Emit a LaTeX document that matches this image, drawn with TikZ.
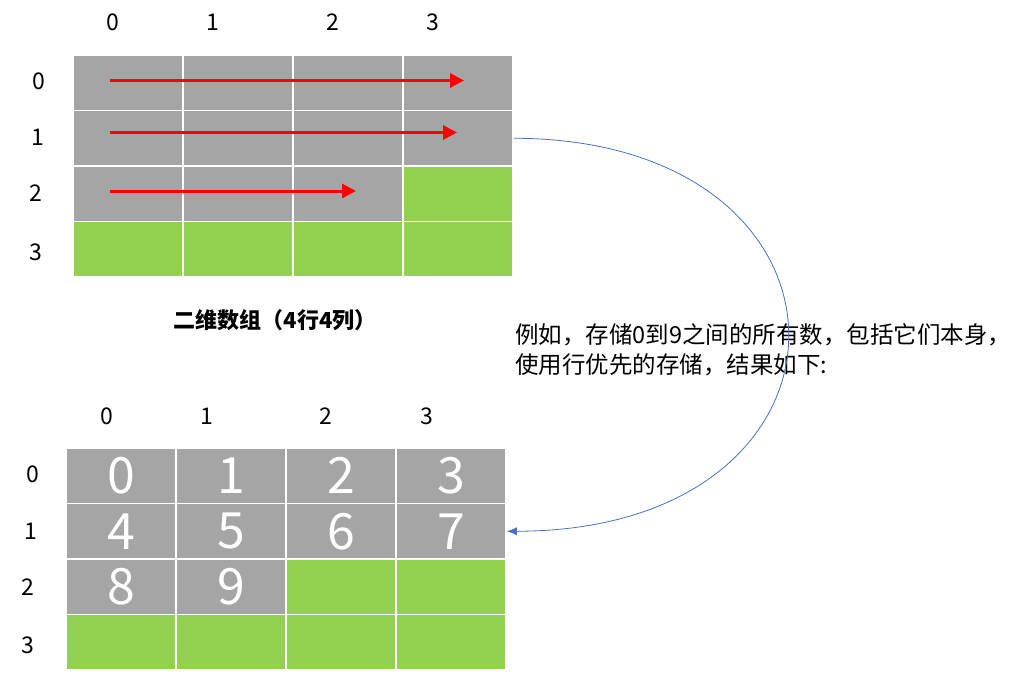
\documentclass[tikz,border=0pt]{standalone}
\usepackage{fontspec}
\setmainfont{Noto Sans CJK SC}
\usetikzlibrary{arrows.meta}
\definecolor{cellgray}{HTML}{A5A5A5}
\definecolor{cellgreen}{HTML}{92D050}
\definecolor{arrred}{HTML}{FF0000}
\definecolor{linkblue}{HTML}{4472C4}
\tikzset{
  cell/.style={draw=white, line width=1.5pt, minimum width=110pt, minimum height=55.5pt, inner sep=0pt, anchor=center, text=white, font=\fontsize{50}{56}\selectfont},
  g/.style={cell, fill=cellgray},
  v/.style={cell, fill=cellgreen},
  idx/.style={font=\fontsize{23}{27}\selectfont, text=black, inner sep=0pt},
  redarrow/.style={draw=arrred, line width=3pt, -{Triangle[length=14pt,width=14pt]}},
  link/.style={draw=linkblue, line width=0.8pt, -{Latex[length=10pt,width=8pt]}},
  body/.style={font=\fontsize{23.5}{30}\selectfont, align=left, anchor=north west, inner sep=0pt}
}
\begin{document}
\begin{tikzpicture}[x=1pt,y=-1pt]
\useasboundingbox (0,0) rectangle (1036,675);
% top grid
\foreach \r/\c/\s in {0/0/g,0/1/g,0/2/g,0/3/g,1/0/g,1/1/g,1/2/g,1/3/g,2/0/g,2/1/g,2/2/g,2/3/v,3/0/v,3/1/v,3/2/v,3/3/v}
  \node[\s] (t-\r-\c) at ({73+110*\c+55},{55+55.5*\r+27.75}) {};
% top labels
\node[idx] (tc0) at (113,22) {0};
\node[idx] (tc1) at (213,22) {1};
\node[idx] (tc2) at (333,22) {2};
\node[idx] (tc3) at (433,22) {3};
\node[idx] (tr0) at (39,81) {0};
\node[idx] (tr1) at (38,137) {1};
\node[idx] (tr2) at (36,193) {2};
\node[idx] (tr3) at (36,252) {3};
% red arrows
\coordinate (a0s) at (110,80.5);
\coordinate (a0e) at (464,80.5);
\coordinate (a1s) at (110,132.5);
\coordinate (a1e) at (457,132.5);
\coordinate (a2s) at (110,191);
\coordinate (a2e) at (356,191);
\draw[redarrow] (a0s) -- (a0e);
\draw[redarrow] (a1s) -- (a1e);
\draw[redarrow] (a2s) -- (a2e);
% caption
\node[font=\fontsize{22}{26}\selectfont\bfseries, inner sep=0pt] (cap) at (275,320) {二维数组（4行4列）};
% description
\node[body] (desc) at (515,323) {例如，存储0到9之间的所有数，包括它们本身，\\使用行优先的存储，结果如下:};
% bottom grid
\foreach \r/\c/\s/\t in {0/0/g/0,0/1/g/1,0/2/g/2,0/3/g/3,1/0/g/4,1/1/g/5,1/2/g/6,1/3/g/7,2/0/g/8,2/1/g/9,2/2/v/,2/3/v/,3/0/v/,3/1/v/,3/2/v/,3/3/v/}
  \node[\s] (b-\r-\c) at ({66+110*\c+55},{448+55.5*\r+27.75}) {\t};
\node[idx] (bc0) at (107,416) {0};
\node[idx] (bc1) at (207,416) {1};
\node[idx] (bc2) at (326,416) {2};
\node[idx] (bc3) at (427,416) {3};
\node[idx] (br0) at (33,474) {0};
\node[idx] (br1) at (31,531) {1};
\node[idx] (br2) at (28,587) {2};
\node[idx] (br3) at (28,645) {3};
% blue link
\draw[link] (t-1-3.east) .. controls (880,139) and (880,531) .. (b-1-3.east);
\end{tikzpicture}
\end{document}
